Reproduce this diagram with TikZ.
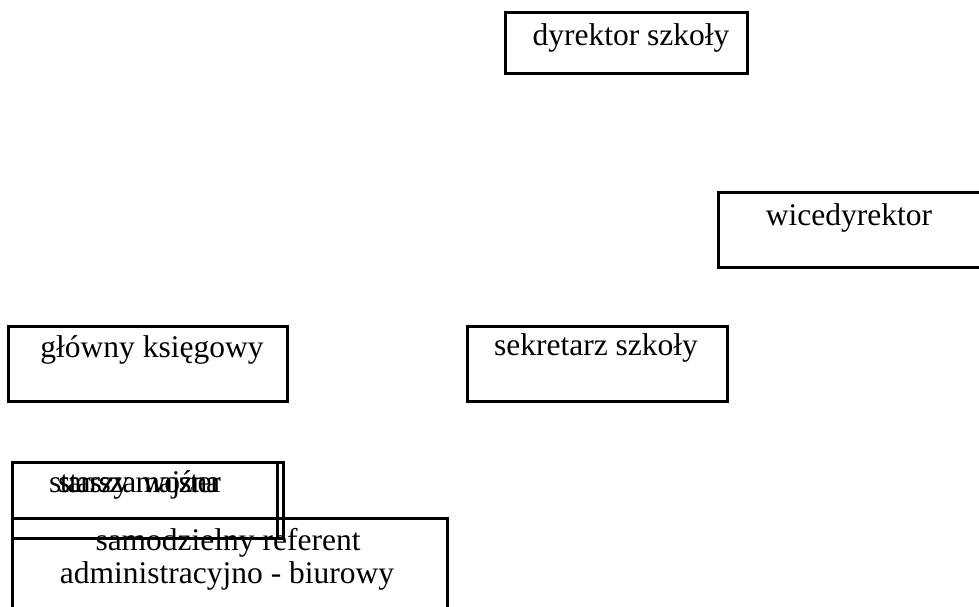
\documentclass[tikz,border=0pt]{standalone}
\usepackage{fontspec}
\setmainfont{Liberation Serif}
\begin{document}
\begin{tikzpicture}[x=1pt,y=-1pt,
  box/.style={draw=black,line width=3pt,rectangle,inner sep=0pt},
  txt/.style={anchor=base,inner sep=0pt,font=\fontsize{31.5}{36}\selectfont},
  cond/.style={txt,anchor=base west,font=\fontsize{31.5}{36}\selectfont\addfontfeatures{LetterSpace=-4}}]
\useasboundingbox (0,0) rectangle (979,607);
\clip (0,0) rectangle (979,607);
% boxes
\node[box,minimum width=242pt,minimum height=61pt] (dyr) at (626,43.5) {};
\node[box,minimum width=270pt,minimum height=75pt] (wice) at (853,229.5) {};
\node[box,minimum width=279pt,minimum height=75pt] (glow) at (147.5,363.5) {};
\node[box,minimum width=260pt,minimum height=75pt] (sekr) at (597,363.5) {};
\node[box,minimum width=271pt,minimum height=76pt] (starA) at (147.5,500) {};
\node[box,minimum width=265pt,minimum height=76pt] (starB) at (144.5,500) {};
\node[box,minimum width=435pt,minimum height=110pt] (samo) at (229.5,573) {};
% texts
\node[txt] (dyrt) at (631,46) {dyrektor szkoły};
\node[txt] (wicet) at (849,225) {wicedyrektor};
\node[txt] (glowt) at (152,357) {główny księgowy};
\node[txt] (sekrt) at (596,355) {sekretarz szkoły};
\node[cond] (starAt) at (49,492) {starszy majster};
\node[cond] (starBt) at (58,492) {starsza woźna};
\node[txt] (samot1) at (228,550) {samodzielny referent};
\node[txt] (samot2) at (227,583) {administracyjno - biurowy};
\end{tikzpicture}
\end{document}
